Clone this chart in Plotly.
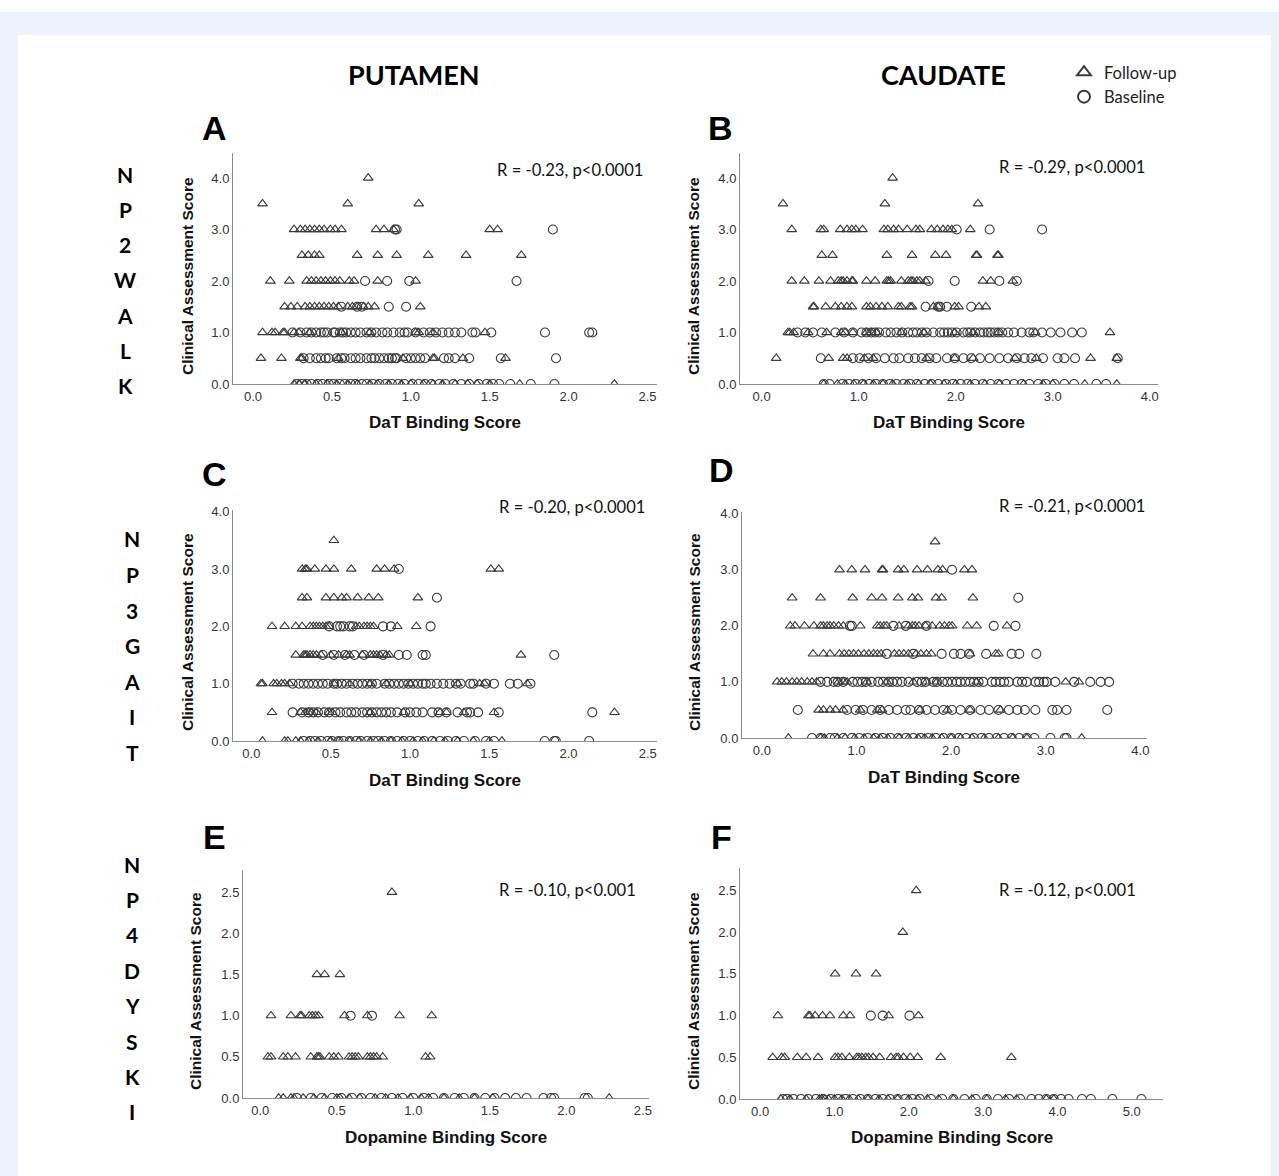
import plotly.graph_objects as go

W, H = 1279, 1176

# ---------------- data (score level -> DaT / dopamine binding values) ----------------
A_followup = {
    4.0: [0.73],
    3.5: [0.06, 0.60, 1.05],
    3.0: [0.26, 0.30, 0.33, 0.36, 0.39, 0.42, 0.45, 0.49, 0.52, 0.56, 0.78, 0.83, 0.89, 1.50, 1.55],
    2.5: [0.31, 0.35, 0.39, 0.42, 0.66, 0.79, 0.91, 1.11, 1.35, 1.70],
    2.0: [0.11, 0.23, 0.34, 0.37, 0.40, 0.43, 0.46, 0.49, 0.52, 0.55, 0.61, 0.64, 0.79, 1.03],
    1.5: [0.20, 0.24, 0.28, 0.33, 0.36, 0.39, 0.42, 0.45, 0.48, 0.51, 0.54, 0.60, 0.63, 0.66, 0.70, 0.73, 0.77, 1.06],
    1.0: [0.06, 0.12, 0.14, 0.19, 0.20, 0.26, 0.29, 0.36, 0.56, 0.74, 1.03, 1.05, 1.14, 1.47],
    0.5: [0.05, 0.18, 0.30, 0.31, 0.54, 0.95, 1.14, 1.15, 1.33, 1.60],
    0.0: [0.26, 0.29, 0.33, 0.40, 0.47, 0.53, 0.60, 0.66, 0.74, 0.79, 0.86, 0.94, 1.00, 1.08, 1.14,
          1.20, 1.28, 1.36, 1.42, 1.50, 1.69, 2.29],
}
A_baseline = {
    3.0: [0.90, 0.91, 1.90],
    2.0: [0.71, 0.85, 0.99, 1.67],
    1.5: [0.56, 0.66, 0.69, 0.86, 0.97],
    1.0: [0.25, 0.30, 0.34, 0.37, 0.40, 0.43, 0.45, 0.47, 0.51, 0.52, 0.55, 0.57, 0.59, 0.62, 0.65,
          0.68, 0.72, 0.75, 0.78, 0.82, 0.85, 0.89, 0.93, 0.96, 0.98, 1.03, 1.08, 1.12, 1.16, 1.20,
          1.24, 1.28, 1.32, 1.39, 1.41, 1.51, 1.85, 2.13, 2.15],
    0.5: [0.32, 0.36, 0.40, 0.43, 0.46, 0.48, 0.53, 0.56, 0.58, 0.62, 0.65, 0.68, 0.72, 0.75, 0.77,
          0.80, 0.83, 0.86, 0.88, 0.90, 0.91, 0.97, 1.00, 1.03, 1.06, 1.09, 1.21, 1.24, 1.28, 1.37,
          1.57, 1.92],
    0.0: [0.28, 0.31, 0.34, 0.37, 0.41, 0.44, 0.48, 0.51, 0.55, 0.58, 0.62, 0.65, 0.69, 0.72, 0.76,
          0.80, 0.84, 0.88, 0.92, 0.96, 1.01, 1.05, 1.09, 1.13, 1.18, 1.22, 1.27, 1.32, 1.37, 1.43,
          1.48, 1.52, 1.56, 1.63, 1.76, 1.91],
}

B_followup = {
    4.0: [1.35],
    3.5: [0.22, 1.27, 2.23],
    3.0: [0.31, 0.61, 0.64, 0.81, 0.88, 0.93, 0.97, 1.04, 1.26, 1.30, 1.36, 1.41, 1.50, 1.59, 1.63,
          1.75, 1.81, 1.87, 1.92, 1.96, 2.15],
    2.5: [0.62, 0.73, 1.29, 1.55, 1.79, 1.90, 2.21, 2.22, 2.43, 2.44],
    2.0: [0.31, 0.44, 0.59, 0.71, 0.79, 0.82, 0.84, 0.88, 0.93, 0.94, 1.08, 1.17, 1.29, 1.31, 1.33,
          1.44, 1.51, 1.54, 1.56, 1.60, 1.63, 1.69, 2.28, 2.36, 2.59],
    1.5: [0.53, 0.54, 0.66, 0.76, 0.82, 0.88, 0.93, 1.08, 1.12, 1.18, 1.24, 1.30, 1.41, 1.44, 1.53,
          1.55, 1.77, 1.82, 1.99, 2.03, 2.24, 2.31],
    1.0: [0.27, 0.29, 0.33, 0.48, 0.67, 0.82, 0.86, 0.94, 1.08, 1.13, 1.18, 1.44, 1.67, 1.99, 2.18,
          2.44, 2.82, 3.59],
    0.5: [0.15, 0.69, 0.84, 0.88, 1.06, 1.15, 1.70, 1.99, 2.18, 2.61, 2.83, 3.39, 3.66],
    0.0: [0.64, 0.78, 0.86, 0.95, 1.05, 1.15, 1.25, 1.35, 1.50, 1.62, 1.74, 1.88, 2.00, 2.15, 2.30,
          2.45, 2.70, 2.90, 3.00, 3.33, 3.66],
}
B_baseline = {
    3.0: [2.01, 2.35, 2.89],
    2.0: [1.72, 1.99, 2.45, 2.63],
    1.5: [1.69, 1.82, 1.84, 1.91, 2.16],
    1.0: [0.37, 0.45, 0.53, 0.62, 0.76, 0.85, 0.94, 1.03, 1.08, 1.13, 1.17, 1.21, 1.28, 1.33, 1.39,
          1.45, 1.51, 1.56, 1.60, 1.65, 1.70, 1.77, 1.84, 1.88, 1.92, 1.96, 2.01, 2.08, 2.12, 2.15,
          2.20, 2.25, 2.29, 2.33, 2.36, 2.40, 2.44, 2.48, 2.54, 2.60, 2.68, 2.76, 2.80, 2.89, 2.98,
          3.08, 3.20, 3.30],
    0.5: [0.61, 0.94, 1.01, 1.10, 1.18, 1.27, 1.36, 1.42, 1.51, 1.58, 1.65, 1.73, 1.80, 1.91, 1.99,
          2.08, 2.16, 2.25, 2.35, 2.45, 2.54, 2.63, 2.71, 2.78, 2.90, 3.05, 3.12, 3.23, 3.67],
    0.0: [0.64, 0.70, 0.83, 0.90, 0.97, 1.04, 1.11, 1.18, 1.25, 1.32, 1.39, 1.46, 1.53, 1.60, 1.68,
          1.75, 1.82, 1.90, 1.97, 2.05, 2.12, 2.20, 2.28, 2.36, 2.44, 2.52, 2.60, 2.68, 2.76, 2.85,
          2.93, 3.02, 3.12, 3.22, 3.45, 3.55],
}

C_followup = {
    3.5: [0.52],
    3.0: [0.32, 0.34, 0.35, 0.40, 0.47, 0.52, 0.63, 0.79, 0.84, 0.90, 1.51, 1.56],
    2.5: [0.32, 0.35, 0.47, 0.52, 0.57, 0.60, 0.67, 0.74, 0.80, 1.05],
    2.0: [0.13, 0.21, 0.28, 0.32, 0.37, 0.39, 0.41, 0.43, 0.45, 0.47, 0.49, 0.66, 0.68, 0.71, 0.73,
          0.75, 0.77, 0.92, 1.04],
    1.5: [0.28, 0.33, 0.34, 0.35, 0.37, 0.39, 0.41, 0.44, 0.50, 0.55, 0.60, 0.62, 0.70, 0.75, 0.77,
          0.79, 0.81, 0.85, 0.87, 1.70],
    1.0: [0.06, 0.07, 0.14, 0.16, 0.19, 0.21, 0.24, 0.52, 0.62, 0.75, 0.85, 1.00, 1.30, 1.44, 1.47, 1.74],
    0.5: [0.13, 0.31, 0.34, 0.36, 0.38, 0.41, 0.49, 0.51, 0.75, 0.96, 1.19, 1.23, 1.34, 1.53, 2.29],
    0.0: [0.07, 0.21, 0.23, 0.28, 0.31, 0.36, 0.42, 0.50, 0.55, 0.62, 0.68, 0.75, 0.82, 0.88, 0.95,
          1.02, 1.08, 1.15, 1.22, 1.30, 1.40, 1.50, 1.58],
}
C_baseline = {
    3.0: [0.93],
    2.5: [1.17],
    2.0: [0.49, 0.54, 0.56, 0.58, 0.62, 0.64, 0.83, 0.88, 1.13],
    1.5: [0.45, 0.52, 0.59, 0.65, 0.71, 0.83, 0.93, 0.98, 1.08, 1.10, 1.91],
    1.0: [0.26, 0.30, 0.33, 0.36, 0.39, 0.42, 0.45, 0.48, 0.52, 0.54, 0.57, 0.60, 0.64, 0.67, 0.70,
          0.73, 0.76, 0.79, 0.84, 0.87, 0.90, 0.93, 0.96, 0.99, 1.02, 1.05, 1.08, 1.10, 1.13, 1.17,
          1.21, 1.25, 1.29, 1.32, 1.38, 1.40, 1.48, 1.53, 1.63, 1.68, 1.76],
    0.5: [0.26, 0.32, 0.36, 0.39, 0.42, 0.46, 0.49, 0.53, 0.56, 0.60, 0.63, 0.66, 0.70, 0.73, 0.76,
          0.79, 0.82, 0.85, 0.88, 0.92, 0.97, 1.00, 1.04, 1.08, 1.14, 1.18, 1.23, 1.30, 1.36, 1.38,
          1.43, 1.56, 2.15],
    0.0: [0.33, 0.37, 0.40, 0.44, 0.48, 0.51, 0.55, 0.58, 0.62, 0.66, 0.69, 0.73, 0.77, 0.80, 0.84,
          0.88, 0.92, 0.96, 1.00, 1.05, 1.09, 1.14, 1.19, 1.24, 1.29, 1.34, 1.41, 1.48, 1.53, 1.85,
          1.91, 1.92, 2.13],
}

D_followup = {
    3.5: [1.83],
    3.0: [0.82, 0.95, 1.09, 1.27, 1.28, 1.44, 1.50, 1.64, 1.75, 1.86, 1.91, 2.14, 2.22],
    2.5: [0.32, 0.62, 0.96, 1.16, 1.27, 1.44, 1.59, 1.65, 1.84, 1.90, 2.23],
    2.0: [0.30, 0.35, 0.45, 0.55, 0.62, 0.65, 0.69, 0.72, 0.76, 0.81, 0.86, 1.04, 1.22, 1.25, 1.29,
          1.32, 1.45, 1.55, 1.59, 1.62, 1.66, 1.73, 1.80, 1.88, 1.93, 1.98, 2.01, 2.17, 2.27, 2.59],
    1.5: [0.54, 0.65, 0.72, 0.82, 0.87, 0.92, 0.97, 1.02, 1.08, 1.13, 1.18, 1.22, 1.26, 1.40, 1.45,
          1.50, 1.55, 1.63, 1.68, 1.74, 1.79, 2.20, 2.47, 2.50],
    1.0: [0.16, 0.21, 0.26, 0.32, 0.37, 0.42, 0.48, 0.53, 0.58, 0.81, 0.86, 0.90, 1.11, 1.32, 1.60,
          1.74, 1.85, 2.27, 3.21, 3.35],
    0.5: [0.60, 0.65, 0.72, 0.78, 0.86, 1.04, 1.22, 1.27, 1.67, 1.96, 2.20, 2.52],
    0.0: [0.28, 0.62, 0.66, 0.80, 0.88, 0.98, 1.08, 1.18, 1.25, 1.33, 1.45, 1.55, 1.65, 1.72, 1.80,
          1.90, 2.00, 2.10, 2.22, 2.35, 2.50, 2.65, 2.80, 3.38],
}
D_baseline = {
    3.0: [2.01],
    2.5: [2.71],
    2.0: [0.93, 0.95, 1.39, 1.52, 1.74, 2.45, 2.68],
    1.5: [1.32, 1.60, 1.90, 2.03, 2.10, 2.19, 2.37, 2.64, 2.72, 2.90],
    1.0: [0.62, 0.69, 0.76, 0.80, 0.86, 0.96, 1.01, 1.06, 1.10, 1.16, 1.23, 1.28, 1.34, 1.38, 1.43,
          1.48, 1.55, 1.64, 1.69, 1.73, 1.81, 1.85, 1.91, 1.96, 2.01, 2.06, 2.10, 2.15, 2.20, 2.24,
          2.29, 2.34, 2.43, 2.47, 2.52, 2.56, 2.61, 2.70, 2.75, 2.80, 2.89, 2.93, 2.98, 3.01, 3.10,
          3.30, 3.47, 3.58, 3.67],
    0.5: [0.38, 0.90, 0.99, 1.07, 1.16, 1.25, 1.34, 1.43, 1.52, 1.57, 1.66, 1.74, 1.83, 1.92, 2.01,
          2.10, 2.20, 2.31, 2.40, 2.50, 2.61, 2.70, 2.78, 2.89, 3.07, 3.12, 3.22, 3.65],
    0.0: [0.53, 0.62, 0.72, 0.77, 0.86, 0.95, 1.03, 1.12, 1.20, 1.28, 1.36, 1.44, 1.52, 1.60, 1.68,
          1.76, 1.84, 1.92, 2.00, 2.08, 2.16, 2.24, 2.32, 2.40, 2.48, 2.56, 2.64, 2.72, 2.80, 2.88,
          3.05, 3.20, 3.22],
}

E_followup = {
    2.5: [0.86],
    1.5: [0.37, 0.42, 0.52],
    1.0: [0.07, 0.20, 0.26, 0.27, 0.32, 0.34, 0.36, 0.38, 0.55, 0.70, 0.91, 1.12],
    0.5: [0.05, 0.07, 0.15, 0.18, 0.23, 0.33, 0.37, 0.38, 0.39, 0.45, 0.48, 0.51, 0.58, 0.60, 0.62,
          0.64, 0.70, 0.72, 0.74, 0.76, 0.80, 1.08, 1.11],
    0.0: [0.12, 0.15, 0.20, 0.22, 0.28, 0.35, 0.42, 0.50, 0.52, 0.58, 0.65, 0.75, 0.82, 0.90, 0.98,
          1.05, 1.10, 1.20, 1.30, 1.40, 1.52, 2.28],
}
E_baseline = {
    1.0: [0.59, 0.73],
    0.0: [0.24, 0.33, 0.40, 0.47, 0.53, 0.60, 0.66, 0.72, 0.79, 0.86, 0.93, 1.00, 1.07, 1.13, 1.20,
          1.27, 1.33, 1.40, 1.47, 1.53, 1.60, 1.67, 1.74, 1.85, 1.90, 1.92, 2.12, 2.14],
}

F_followup = {
    2.5: [2.10],
    2.0: [1.92],
    1.5: [1.01, 1.29, 1.56],
    1.0: [0.24, 0.65, 0.67, 0.74, 0.84, 0.94, 1.12, 1.21, 1.73, 2.13],
    0.5: [0.17, 0.29, 0.33, 0.50, 0.62, 0.78, 1.01, 1.05, 1.10, 1.20, 1.30, 1.33, 1.37, 1.42, 1.46,
          1.52, 1.61, 1.76, 1.83, 1.86, 1.93, 2.02, 2.12, 2.43, 3.38],
    0.0: [0.28, 0.40, 0.62, 0.80, 0.83, 0.87, 0.92, 1.00, 1.10, 1.20, 1.32, 1.45, 1.60, 1.72, 1.85,
          2.00, 2.12, 2.25, 2.40, 2.60, 2.85, 3.05, 3.30, 3.45, 3.85, 3.95],
}
F_baseline = {
    1.0: [1.49, 1.65, 2.01],
    0.0: [0.31, 0.36, 0.45, 0.55, 0.65, 0.75, 0.85, 0.95, 1.05, 1.15, 1.25, 1.35, 1.45, 1.55, 1.65,
          1.75, 1.85, 1.95, 2.05, 2.15, 2.30, 2.45, 2.60, 2.75, 2.90, 3.05, 3.20, 3.35, 3.50, 3.65,
          3.75, 3.85, 3.95, 4.05, 4.15, 4.33, 4.45, 4.74, 5.13],
}

panel_letters = ["A", "B", "C", "D", "E", "F"]
stats_text = ["R = -0.23, p<0.0001", "R = -0.29, p<0.0001",
              "R = -0.20, p<0.0001", "R = -0.21, p<0.0001",
              "R = -0.10, p<0.001", "R = -0.12, p<0.001"]
x_titles = ["DaT Binding Score", "DaT Binding Score", "DaT Binding Score",
            "DaT Binding Score", "Dopamine Binding Score", "Dopamine Binding Score"]
x_ticks = [[0, 0.5, 1, 1.5, 2, 2.5], [0, 1, 2, 3, 4],
           [0, 0.5, 1, 1.5, 2, 2.5], [0, 1, 2, 3, 4],
           [0, 0.5, 1, 1.5, 2, 2.5], [0, 1, 2, 3, 4, 5]]
y_ticks = [[0, 1, 2, 3, 4], [0, 1, 2, 3, 4], [0, 1, 2, 3, 4], [0, 1, 2, 3, 4],
           [0, 0.5, 1, 1.5, 2, 2.5], [0, 0.5, 1, 1.5, 2, 2.5]]
column_headers = ["PUTAMEN", "CAUDATE"]
row_labels = ["NP2WALK", "NP3GAIT", "NP4DYSKI"]
series_names = ["Follow-up", "Baseline"]

followups = [A_followup, B_followup, C_followup, D_followup, E_followup, F_followup]
baselines = [A_baseline, B_baseline, C_baseline, D_baseline, E_baseline, F_baseline]

# ---------------- layout geometry (pixels) ----------------
boxes = [(233, 657, 153, 384), (740, 1158, 153, 384),
         (233, 657, 510, 741), (742, 1147, 512, 738),
         (243, 649, 870, 1098), (740, 1163, 868, 1099)]
x_ranges = [[-0.127, 2.56], [-0.223, 4.085], [-0.116, 2.558], [-0.21, 4.07],
            [-0.113, 2.54], [-0.27, 5.42]]
y_ranges = [[0, 4.485], [0, 4.485], [0, 4.03], [0, 4.03], [0, 2.77], [0, 2.77]]

letter_pos = [(214, 128), (720, 128), (214, 474), (721, 470), (214, 837), (721, 837)]
stats_pos = [(570, 170), (1072, 167), (572, 507), (1072, 506), (567, 890), (1067, 890)]
xtitle_pos = [(445, 423), (949, 423), (445, 780), (944, 777), (446, 1137), (952, 1137)]
ytitle_pos = [(187, 276), (693, 276), (187, 632), (694, 632), (195, 991), (693, 991)]


def px(x):
    return x / W


def py(y):
    return 1 - y / H


MARK = "#3a3a3a"
ARIAL = "Liberation Sans, Arial, sans-serif"
CAL = "Lato, Carlito, Calibri, sans-serif"

fig = go.Figure()
layout = {}
ann = []


def add_text(x, y, text, family, size, color="#000", angle=0):
    ann.append(dict(x=px(x), y=py(y), xref="paper", yref="paper", text=text,
                    textangle=angle, showarrow=False, xanchor="center", yanchor="middle",
                    font=dict(family=family, size=size, color=color)))


for i in range(6):
    sfx = "" if i == 0 else str(i + 1)
    xa, ya = "x" + sfx, "y" + sfx
    for k, (data, sym, msize) in enumerate([(followups[i], "triangle-up-open", 8.5),
                                            (baselines[i], "circle-open", 9)]):
        xs, ys = [], []
        for level, vals in data.items():
            xs += vals
            ys += [level] * len(vals)
        fig.add_trace(go.Scatter(
            x=xs, y=ys, mode="markers", xaxis=xa, yaxis=ya,
            name=series_names[k], showlegend=(i == 0),
            marker=dict(symbol=sym, size=msize, color=MARK, line=dict(width=1.1, color=MARK)),
        ))
    x0, x1, yt, yb = boxes[i]
    common = dict(showgrid=False, zeroline=False, showline=True, linecolor="#8c8c8c",
                  linewidth=1, ticks="", tickformat=".1f", fixedrange=True, automargin=False,
                  tickfont=dict(family=ARIAL, size=13, color="#333333"))
    layout["xaxis" + sfx] = dict(domain=[px(x0), px(x1)], range=x_ranges[i], anchor=ya,
                                 tickvals=x_ticks[i], **common)
    layout["yaxis" + sfx] = dict(domain=[py(yb), py(yt)], range=y_ranges[i], anchor=xa,
                                 tickvals=y_ticks[i], **common)
    add_text(*letter_pos[i], "<b>%s</b>" % panel_letters[i], ARIAL, 34)
    add_text(*stats_pos[i], stats_text[i], CAL, 16.6, "#111")
    add_text(*xtitle_pos[i], "<b>%s</b>" % x_titles[i], ARIAL, 17, "#111")
    add_text(*ytitle_pos[i], "<b>Clinical Assessment Score</b>", ARIAL, 15.5, "#111", -90)

for j, (cx, cy) in enumerate([(414, 74), (943, 74)]):
    add_text(cx, cy, "<b>%s</b>" % column_headers[j], CAL, 27)

row_geo = [(125, 174, 35.3), (132, 539, 35.5), (132, 864, 35.4)]
for r, label in enumerate(row_labels):
    cx, y0, dy = row_geo[r]
    for n, ch in enumerate(label):
        add_text(cx, y0 + n * dy, "<b>%s</b>" % ch, CAL, 21)

shapes = [
    dict(type="rect", xref="paper", yref="paper", x0=0, x1=1, y0=py(12), y1=1,
         fillcolor="white", line=dict(width=0), layer="below"),
    dict(type="rect", xref="paper", yref="paper", x0=px(18), x1=px(1271), y0=0, y1=py(35),
         fillcolor="white", line=dict(width=0), layer="below"),
]

fig.update_layout(
    width=W, height=H, margin=dict(l=0, r=0, t=0, b=0, autoexpand=False), autosize=False,
    paper_bgcolor="#eef3fb", plot_bgcolor="rgba(0,0,0,0)",
    annotations=ann, shapes=shapes,
    legend=dict(x=px(1064), y=py(55), xanchor="left", yanchor="top",
                font=dict(family=CAL, size=16.5, color="#222"), bgcolor="rgba(0,0,0,0)",
                itemwidth=30, tracegroupgap=0, itemsizing="constant"),
    **layout,
)

post = ("document.documentElement.style.margin='0';document.body.style.margin='0';"
        "document.documentElement.style.overflow='hidden';document.body.style.overflow='hidden';")
fig.write_html("out.html", config={"displayModeBar": False, "responsive": False},
               post_script=post)
